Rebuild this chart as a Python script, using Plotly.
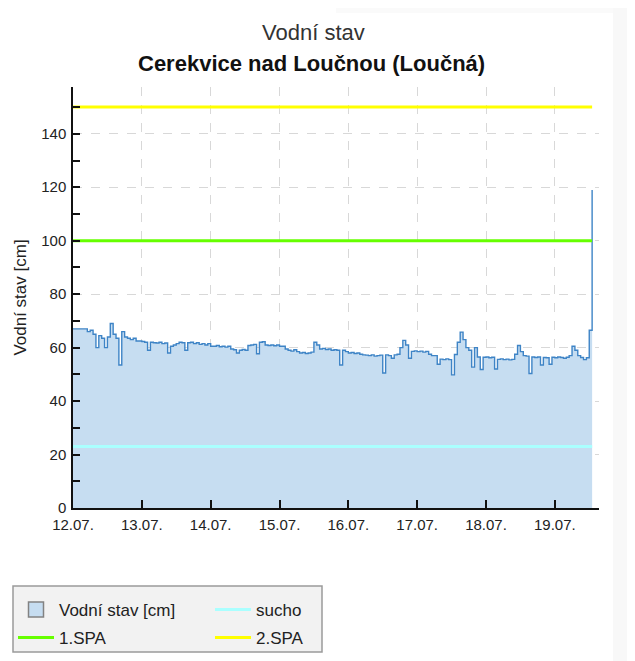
import pandas as pd
import plotly.graph_objects as go

# ---------------- data ----------------
START = "2025-07-12 00:00"
# hourly water level [cm] from 12.07. 00:00
level = [
    67, 67, 67, 67, 67, 66, 66.5, 65, 60, 64.5, 63.5, 60, 64, 69, 65, 63.5,
    53.5, 66, 64, 63.5, 63, 63.5, 62.5, 62.5, 62.3, 62, 59, 62, 61.8, 61.7,
    62, 61.5, 61.7, 58, 60.5, 61, 61.5, 62, 61.8, 59, 61.8, 62, 61.5, 61.8,
    61.2, 61.5, 61, 61.5, 60.5, 60.5, 60.8, 60.3, 60.5, 60.2, 60.5, 59.5,
    59.2, 58, 59, 59.3, 59, 60.8, 61, 61.2, 57.7, 62, 62.2, 61, 60.8, 61,
    60.7, 61, 60.5, 60.5, 59.5, 59, 58.7, 59.2, 58.5, 58, 58.2, 57.8, 58,
    58.3, 62, 61, 59.5, 59.7, 59.3, 59.5, 59, 59.2, 59, 53.5, 59, 58.5, 58,
    58.2, 57.8, 58, 57.5, 57.3, 57.2, 57, 57.3, 56.8, 57, 57.2, 50.5, 57.3,
    57, 56, 57.3, 57.5, 60, 62.7, 61, 56, 58.6, 58.8, 58.5, 58.7, 58.3, 58.6,
    57.5, 57, 57, 53.8, 55.7, 55.5, 55.8, 55.5, 49.8, 57.4, 62, 65.8, 63, 60,
    59, 52.7, 60, 56.5, 51.8, 56.4, 56.5, 56.2, 56.4, 52, 55.6, 55.8, 55.5,
    55.7, 55.4, 55.6, 57.5, 60.8, 58.5, 57, 56.8, 50.3, 56.5, 56.3, 56.5,
    53.5, 56.3, 56.2, 53.8, 56.4, 56.2, 56.5, 56.3, 56, 56.4, 57, 60.5, 59,
    57, 56.3, 55.5, 56.2, 66.5, 119,
]
SUCHO = 23
SPA1 = 100
SPA2 = 150
X_END = "2025-07-19 15:24"
Y_MAX = 157.5
TITLE = "Vodní stav"
SUBTITLE = "Cerekvice nad Loučnou (Loučná)"
Y_TITLE = "Vodní stav [cm]"
NAMES = ["Vodní stav [cm]", "sucho", "1.SPA", "2.SPA"]

times = pd.date_range(START, periods=len(level), freq="h")

# ---------------- layout geometry (page pixels; body has an 8px margin) ----------------
PAGE_W, PAGE_H = 635, 661
OFF = 8
W, H = PAGE_W - OFF, PAGE_H - OFF
PLOT_L, PLOT_R, PLOT_T, PLOT_B = 73, 599, 87, 508
ML, MT = PLOT_L - OFF, PLOT_T - OFF
MR, MB = PAGE_W - PLOT_R, PAGE_H - PLOT_B
PW, PH = W - ML - MR, H - MT - MB


def px(x):
    return (x - PLOT_L) / PW


def py(y):
    return (PLOT_B - y) / PH


FONT = "Liberation Sans, Arial, sans-serif"

fig = go.Figure()

fig.add_trace(go.Scatter(
    x=times, y=level, mode="lines", line=dict(color="rgb(62,132,198)", width=1.4, shape="hv"),
    fill="tozeroy", fillcolor="rgb(198,221,241)", showlegend=False, hoverinfo="x+y",
))
# legend entry for the water level (square symbol)
fig.add_trace(go.Scatter(
    x=[None], y=[None], mode="markers", name=NAMES[0],
    marker=dict(symbol="square", size=15, color="rgb(198,221,241)",
                line=dict(color="rgb(130,130,130)", width=1.5)),
    legend="legend",
))
fig.add_trace(go.Scatter(
    x=[times[0], times[-1]], y=[SUCHO, SUCHO], mode="lines", name=NAMES[1],
    line=dict(color="rgb(170,255,255)", width=3), legend="legend",
))
fig.add_trace(go.Scatter(
    x=[times[0], times[-1]], y=[SPA1, SPA1], mode="lines", name=NAMES[2],
    line=dict(color="rgb(102,255,0)", width=3), legend="legend2",
))
fig.add_trace(go.Scatter(
    x=[times[0], times[-1]], y=[SPA2, SPA2], mode="lines", name=NAMES[3],
    line=dict(color="rgb(255,255,0)", width=3), legend="legend2",
))

legend_common = dict(
    orientation="h", xanchor="left", yanchor="top", bgcolor="rgba(0,0,0,0)",
    borderwidth=0, font=dict(family=FONT, size=17, color="#222"),
    entrywidth=146, entrywidthmode="pixels", itemwidth=36, traceorder="normal",
    itemclick=False, itemdoubleclick=False,
)

fig.update_layout(
    width=W, height=H,
    margin=dict(l=ML, r=MR, t=MT, b=MB, autoexpand=False),
    paper_bgcolor="white", plot_bgcolor="white",
    font=dict(family=FONT, color="#222"),
    legend=dict(x=px(13), y=py(592), **legend_common),
    legend2=dict(x=px(13), y=py(620), **legend_common),
    xaxis=dict(
        type="date", range=[START, X_END], tickformat="%d.%m.", dtick=86400000, tick0=START,
        ticks="inside", ticklen=8, tickcolor="#111", tickwidth=1.5,
        showline=True, linecolor="#111", linewidth=1.5,
        showgrid=True, gridcolor="#d8d8d8", griddash="dash", gridwidth=1,
        tickfont=dict(family=FONT, size=15, color="#222"), zeroline=False,
        automargin=False, ticklabelstandoff=2,
    ),
    yaxis=dict(
        range=[0, Y_MAX], dtick=20, tick0=0,
        ticks="inside", ticklen=7, tickcolor="#111", tickwidth=1.5,
        minor=dict(dtick=10, ticks="inside", ticklen=7, tickcolor="#111", showgrid=False),
        showline=True, linecolor="#111", linewidth=1.5,
        showgrid=True, gridcolor="#d8d8d8", griddash="dash", gridwidth=1,
        tickfont=dict(family=FONT, size=15, color="#222"), zeroline=False,
        ticklabelstandoff=2, automargin=False,
        title=dict(text=Y_TITLE, font=dict(family=FONT, size=17, color="#222"), standoff=10),
    ),
    annotations=[
        dict(text=TITLE, x=px(313), y=py(32), xref="paper", yref="paper", showarrow=False,
             xanchor="center", yanchor="middle",
             font=dict(family=FONT, size=22, color="#333")),
        dict(text="<b>" + SUBTITLE + "</b>", x=px(311), y=py(63), xref="paper", yref="paper",
             showarrow=False, xanchor="center", yanchor="middle",
             font=dict(family=FONT, size=22, color="#111")),
    ],
    shapes=[
        dict(type="rect", xref="paper", yref="paper", x0=px(613), x1=px(PAGE_W + 10),
             y0=py(PAGE_H + 10), y1=py(0),
             fillcolor="#f8f8f8", line=dict(width=0), layer="below"),
        dict(type="rect", xref="paper", yref="paper", x0=px(336), x1=px(613), y0=py(13), y1=py(0),
             fillcolor="#fafafa", line=dict(width=0), layer="below"),
        dict(type="rect", xref="paper", yref="paper", x0=px(13), x1=px(322), y0=py(652), y1=py(586),
             fillcolor="#f2f2f2", line=dict(color="#9a9a9a", width=1.5), layer="below"),
    ],
)

fig.write_html("out.html")
